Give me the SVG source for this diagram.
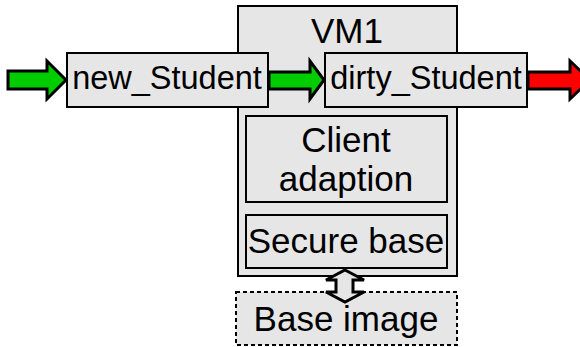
<svg xmlns="http://www.w3.org/2000/svg" width="580" height="347" viewBox="0 0 580 347">
<style>
.box{fill:#e6e6e6;stroke:#000;stroke-width:2}
.dash{fill:#e6e6e6;stroke:#000;stroke-width:2;stroke-dasharray:4 3}
.t{font-family:"Liberation Sans",Arial,sans-serif;font-size:35px;fill:#000;text-anchor:middle}
.s{font-size:32.5px}
.ga{fill:#00cc00;stroke:#000;stroke-width:3;stroke-linejoin:miter}
.ra{fill:#ff0000;stroke:#000;stroke-width:3}
.da{fill:#e6e6e6;stroke:#000;stroke-width:3}
</style>
<rect width="580" height="347" fill="#fff"/>
<g id="vm1">
<rect class="box" x="238" y="6" width="219" height="270"/>
<text class="t" x="347" y="43">VM1</text>
</g>
<g id="client">
<rect class="box" x="246" y="116" width="201" height="86"/>
<text class="t" x="346" y="152">Client</text>
<text class="t" x="346" y="191">adaption</text>
</g>
<g id="secure">
<rect class="box" x="246" y="215" width="201" height="53"/>
<text class="t" x="346" y="253">Secure base</text>
</g>
<g id="base">
<rect class="dash" x="236" y="292" width="221" height="53"/>
<text class="t" x="346" y="331">Base image</text>
</g>
<g id="new">
<rect class="box" x="67" y="53" width="201" height="54"/>
<text class="t s" x="167" y="89">new_Student</text>
</g>
<g id="dirty">
<rect class="box" x="325" y="53" width="202" height="54"/>
<text class="t s" x="426" y="89">dirty_Student</text>
</g>
<g id="connectors">
<polygon class="ga" points="8,71 47,71 47,61 66,80 47,99 47,89 8,89"/>
<polygon class="ga" points="269,72 310,72 310,61 324,80 310,99 310,89 269,89"/>
<polygon class="ra" points="528,72 570,72 570,61 590,80 570,99 570,89 528,89"/>
<polygon class="da" points="345,270 364,280 353,280 353,292 364,292 345,302 326,292 336,292 336,280 326,280"/>
</g>
</svg>
